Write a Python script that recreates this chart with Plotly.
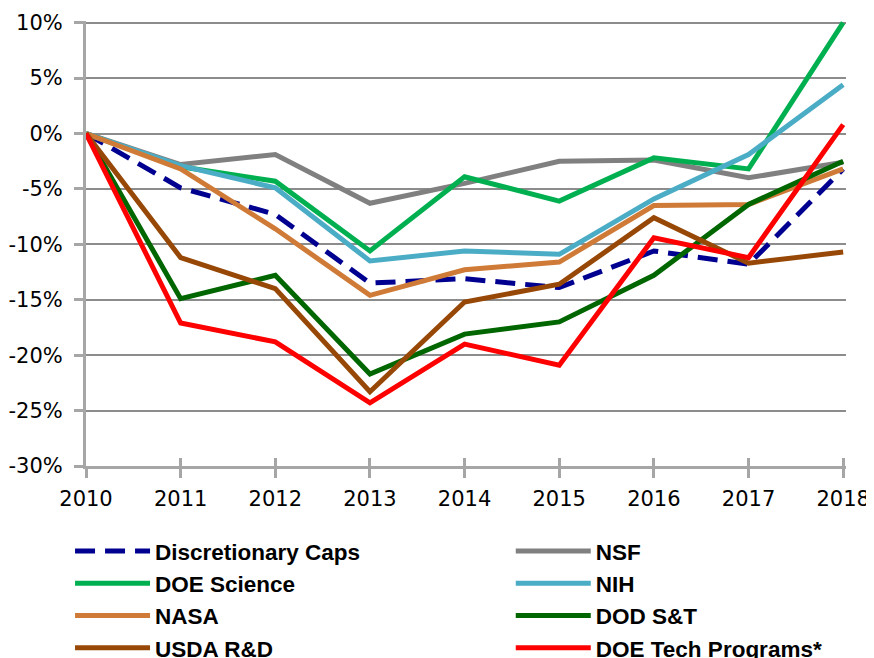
import plotly.graph_objects as go

years = [2010, 2011, 2012, 2013, 2014, 2015, 2016, 2017, 2018]

disc_caps = [0, -4.9, -7.3, -13.5, -13.1, -13.9, -10.6, -11.8, -3.2]
nsf = [0, -2.8, -1.9, -6.3, -4.5, -2.5, -2.4, -4.0, -2.6]
doe_science = [0, -3.0, -4.3, -10.6, -3.9, -6.1, -2.2, -3.2, 10.0]
nih = [0, -2.9, -4.9, -11.5, -10.6, -10.9, -5.9, -1.9, 4.4]
nasa = [0, -3.2, -8.6, -14.6, -12.3, -11.6, -6.5, -6.4, -3.2]
dod_st = [0, -14.9, -12.8, -21.7, -18.1, -17.0, -12.8, -6.4, -2.5]
usda = [0, -11.2, -14.0, -23.3, -15.2, -13.6, -7.6, -11.7, -10.7]
doe_tech = [0, -17.1, -18.8, -24.3, -19.0, -20.9, -9.4, -11.2, 0.8]

# (name, values, colour, dash, legend column)
series = [
    ("Discretionary Caps", disc_caps, "#000090", "20px,10px", "legend"),
    ("NSF", nsf, "#808080", "solid", "legend2"),
    ("DOE Science", doe_science, "#00B050", "solid", "legend"),
    ("NIH", nih, "#4BACC6", "solid", "legend2"),
    ("NASA", nasa, "#CF7B37", "solid", "legend"),
    ("DOD S&T", dod_st, "#006600", "solid", "legend2"),
    ("USDA R&D", usda, "#974806", "solid", "legend"),
    ("DOE Tech Programs*", doe_tech, "#FF0000", "solid", "legend2"),
]

y_ticks = [10, 5, 0, -5, -10, -15, -20, -25, -30]
y_labels = [f"{v}%" for v in y_ticks]

fig = go.Figure()
for name, vals, color, dash, leg in series:
    fig.add_trace(go.Scatter(
        x=years, y=vals, name=name, mode="lines", legend=leg,
        line=dict(color=color, width=5, dash=dash),
    ))

# empty helper trace so the overlay axis (inner halves of the x ticks) exists
fig.add_trace(go.Scatter(x=[], y=[], xaxis="x2", showlegend=False, hoverinfo="skip"))

legend_font = dict(family="Liberation Sans", size=22.5, color="black", weight="bold")
common_leg = dict(orientation="v", yanchor="top", xanchor="left", itemwidth=75,
                  font=legend_font, tracegroupgap=0, bgcolor="rgba(0,0,0,0)")

fig.update_layout(
    width=866, height=650,
    margin=dict(l=78, r=28, t=13, b=192, autoexpand=False),
    paper_bgcolor="white", plot_bgcolor="white",
    font=dict(family="DejaVu Sans", size=21, color="black"),
    showlegend=True,
    legend=dict(x=-0.021, y=-0.1435, **common_leg),
    legend2=dict(x=0.5589, y=-0.1435, **common_leg),
    xaxis=dict(
        range=[2010, 2018.03], tickvals=years, ticktext=[str(y) for y in years],
        showgrid=False, zeroline=False,
        showline=True, linecolor="#A6A6A6", linewidth=3,
        ticks="outside", ticklen=9, tickwidth=3, tickcolor="#A6A6A6",
        tickfont=dict(family="DejaVu Sans", size=21),
        ticklabelstandoff=3,
    ),
    xaxis2=dict(
        overlaying="x", anchor="y", side="bottom",
        range=[2010, 2018.03], tickvals=years, showticklabels=False,
        showgrid=False, zeroline=False, showline=False,
        ticks="inside", ticklen=8, tickwidth=3, tickcolor="#A6A6A6",
    ),
    yaxis=dict(
        range=[-30, 10.15], tickvals=y_ticks, ticktext=y_labels,
        showgrid=True, gridcolor="#8C8C8C", gridwidth=1.5,
        zeroline=False,
        showline=True, linecolor="#A6A6A6", linewidth=3,
        ticks="outside", ticklen=9, tickwidth=3, tickcolor="#A6A6A6",
        tickfont=dict(family="DejaVu Sans", size=21),
        ticklabelstandoff=7,
    ),
)

fig.write_html("out.html")
